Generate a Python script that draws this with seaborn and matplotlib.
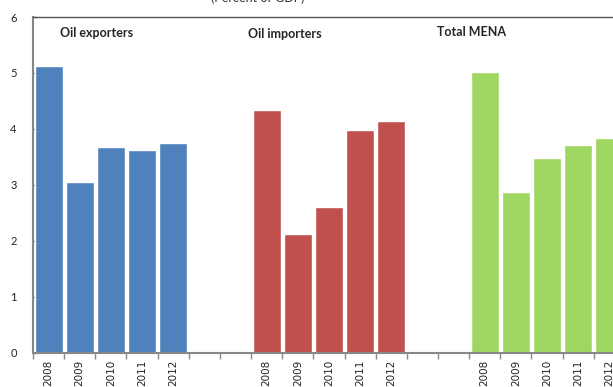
import pandas as pd
import matplotlib.pyplot as plt
import seaborn as sns

# values (percent)
years = ['2008', '2009', '2010', '2011', '2012']
groups = ['Oil exporters', 'Oil importers', 'Total MENA']
oil_exporters = [5.12, 3.05, 3.67, 3.62, 3.74]
oil_importers = [4.34, 2.12, 2.60, 3.98, 4.14]
total_mena = [5.01, 2.87, 3.48, 3.71, 3.83]
colors = ['#4F81BD', '#C0504D', '#A0D662']

rows = []
order = []
ticklabels = []
for gi, (g, vals) in enumerate(zip(groups, [oil_exporters, oil_importers, total_mena])):
    for y, v in zip(years, vals):
        key = f'{g}_{y}'
        rows.append({'slot': key, 'group': g, 'value': v})
        order.append(key)
        ticklabels.append(y)
    if gi < len(groups) - 1:
        for k in range(2):
            order.append(f'gap{gi}_{k}')
            ticklabels.append('')
# a couple of trailing empty slots so the last group sits like in the original
order += ['tail0', 'tail1']
ticklabels += ['', '']
df = pd.DataFrame(rows)

sns.set_theme(style='white')
plt.rcParams['font.family'] = ['Lato', 'DejaVu Sans']

fig = plt.figure(figsize=(6.13, 3.87), dpi=100)
ax = fig.add_axes([33 / 613, 1 - 352.7 / 387, (21 * 31.15) / 613, (352.7 - 17) / 387])

sns.barplot(data=df, x='slot', y='value', hue='group', order=order, hue_order=groups,
            palette=colors, dodge=False, width=0.9, saturation=1, legend=False, ax=ax)

ax.set_xlim(-0.5, len(order) - 0.5)
ax.set_ylim(0, 6)
ax.set_yticks(range(0, 7))
ax.set_xlabel('')
ax.set_ylabel('')
ax.set_xticks(range(len(order)))
ax.set_xticklabels(ticklabels, rotation=90, fontsize=7.5, family='DejaVu Sans', color='#222222')
ax.set_xticks([i + 0.5 for i in range(-1, len(order))], minor=True)
ax.tick_params(axis='x', which='major', length=0, pad=5)
ax.tick_params(axis='x', which='minor', length=4, width=1, color='#888888', direction='out', bottom=True)
ax.tick_params(axis='y', length=3, width=1, color='#888888', direction='in', left=True,
               labelsize=8, pad=14, labelcolor='#222222')
for lab in ax.get_yticklabels():
    lab.set_horizontalalignment('center')

for side in ['left', 'bottom']:
    ax.spines[side].set_color('#888888')
    ax.spines[side].set_linewidth(1.5)
ax.spines['top'].set_color('#555555')
ax.spines['top'].set_linewidth(1)
ax.spines['right'].set_visible(False)

ax.text(1.55, 5.71, 'Oil exporters', ha='center', va='center', fontsize=9, fontweight='bold')
ax.text(7.59, 5.69, 'Oil importers', ha='center', va='center', fontsize=9, fontweight='bold')
ax.text(13.59, 5.74, 'Total MENA', ha='center', va='center', fontsize=9, fontweight='bold')

# title line, cut off at the top edge as in the original
fig.text(0.421, 1 - 1.5 / 387, '(Percent of GDP)', ha='center', va='baseline', fontsize=9, color='#333333')

fig.savefig('out.png', dpi=100)
